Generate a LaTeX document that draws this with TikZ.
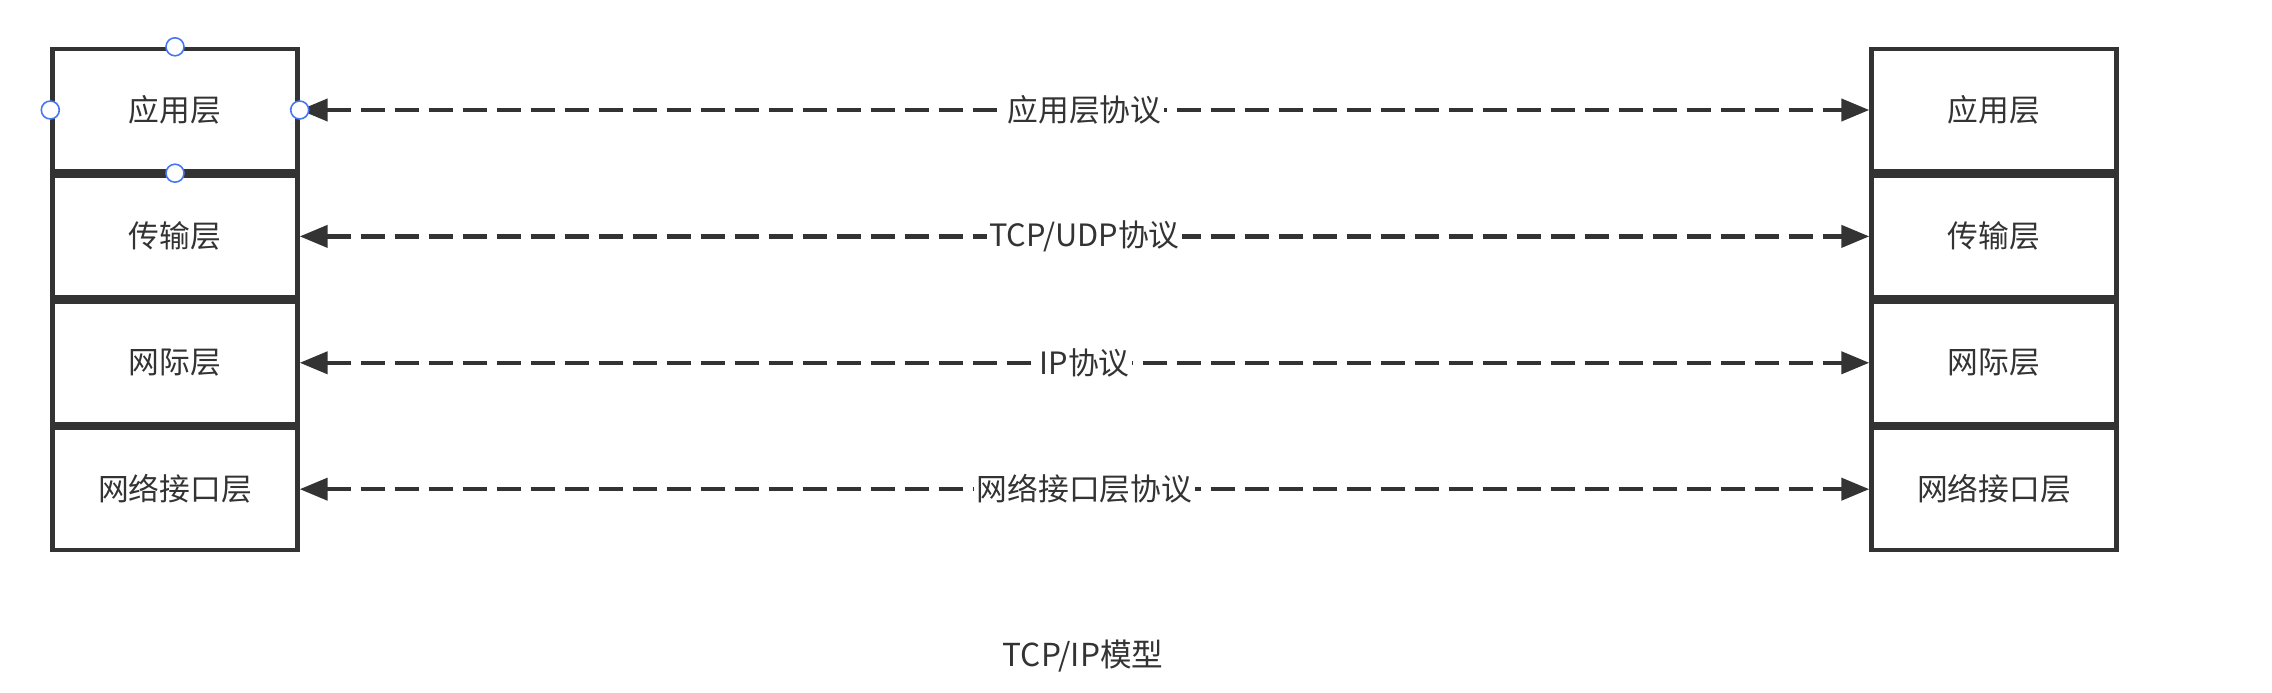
\documentclass[tikz,border=0pt]{standalone}
\usepackage{fontspec}
\setmainfont{Noto Sans CJK SC}
\usetikzlibrary{arrows.meta,positioning}

\tikzset{
  layer/.style={draw=ink,line width=2.5pt,minimum width=4.9cm,minimum height=2.44cm,inner sep=0pt,text=ink,font=\fontsize{17.5}{20}\selectfont},
  proto/.style={{Triangle[length=0.56cm,width=0.44cm]}-{Triangle[length=0.56cm,width=0.44cm]},draw=ink,line width=2.4pt,dash pattern=on 0.48cm off 0.2cm},
  protolabel/.style={fill=white,text=ink,inner sep=1.5pt,font=\fontsize{17.5}{20}\selectfont},
  handle/.style={circle,draw=handleblue,fill=white,line width=0.9pt,minimum size=0.36cm,inner sep=0pt}
}

\begin{document}
\begin{tikzpicture}
% Define colours
\definecolor{ink}{HTML}{333333}
\definecolor{handleblue}{HTML}{4677F0}

\useasboundingbox (0,0) rectangle (45.44,-13.86);

% Left stack
\node[layer] (appL) at (3.5,-2.2) {应用层};
\node[layer,below=0pt of appL] (tranL) {传输层};
\node[layer,below=0pt of tranL] (netL) {网际层};
\node[layer,below=0pt of netL] (linkL) {网络接口层};

% Right stack
\node[layer] (appR) at (39.88,-2.2) {应用层};
\node[layer,below=0pt of appR] (tranR) {传输层};
\node[layer,below=0pt of tranR] (netR) {网际层};
\node[layer,below=0pt of netR] (linkR) {网络接口层};

% Protocols between peer layers
\draw[proto] (appL.east) -- node[protolabel] (appP) {应用层协议} (appR.west);
\draw[proto] (tranL.east) -- node[protolabel] (tranP) {TCP/UDP协议} (tranR.west);
\draw[proto] (netL.east) -- node[protolabel] (netP) {IP协议} (netR.west);
\draw[proto] (linkL.east) -- node[protolabel] (linkP) {网络接口层协议} (linkR.west);

% Selection handles
\node[handle] (hN) at (appL.north) {};
\node[handle] (hW) at (appL.west) {};
\node[handle] (hE) at (appL.east) {};
\node[handle] (hS) at (appL.south) {};

% Caption
\node[text=ink,font=\fontsize{18}{20}\selectfont] (title) at (21.66,-13.12) {TCP/IP模型};
\end{tikzpicture}
\end{document}
